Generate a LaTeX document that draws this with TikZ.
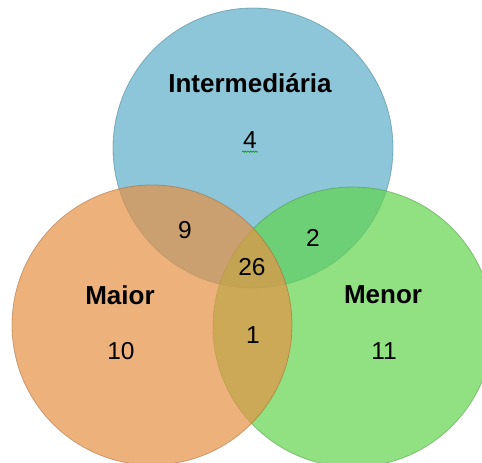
\documentclass[tikz,border=0pt]{standalone}
\usepackage{fontspec}
\setmainfont{Liberation Sans}
\usetikzlibrary{decorations.pathmorphing}
\definecolor{cblue}{RGB}{91,174,199}
\definecolor{corange}{RGB}{230,145,69}
\definecolor{cgreen}{RGB}{98,212,77}
\begin{document}
\begin{tikzpicture}[x=1pt,y=-1pt,
  setc/.style={circle, inner sep=0pt, minimum size=280pt, fill opacity=0.7, draw opacity=0.5, line width=0.8pt},
  lbl/.style={font=\fontsize{26}{30}\selectfont\bfseries, text=black, inner sep=0pt},
  num/.style={font=\fontsize{24.5}{28}\selectfont, text=black, inner sep=0pt}]
\useasboundingbox (0,0) rectangle (482,463);
\node[setc, fill=cblue, draw=cblue!70!black] (interc) at (253,148) {};
\node[setc, fill=cgreen, draw=cgreen!70!black] (menorc) at (353,327) {};
\node[setc, fill=corange, draw=corange!70!black] (maiorc) at (152,325) {};
\node[lbl] (interl) at (250,83) {Intermediária};
\node[lbl] (maiorl) at (120,295) {Maior};
\node[lbl] (menorl) at (383,295) {Menor};
\node[num] (n4) at (250,140) {4};
\node[num] (n9) at (185,230) {9};
\node[num] (n2) at (313,238) {2};
\node[num] (n26) at (252,267) {26};
\node[num] (n1) at (253,335) {1};
\node[num] (n10) at (121,351) {10};
\node[num] (n11) at (384,351) {11};
\draw[green!60!black, line width=0.6pt, decorate, decoration={snake, amplitude=0.7pt, segment length=2.6pt}]
  ([yshift=-3pt,xshift=-1pt]n4.south west) -- ([yshift=-3pt,xshift=1pt]n4.south east);
\end{tikzpicture}
\end{document}
